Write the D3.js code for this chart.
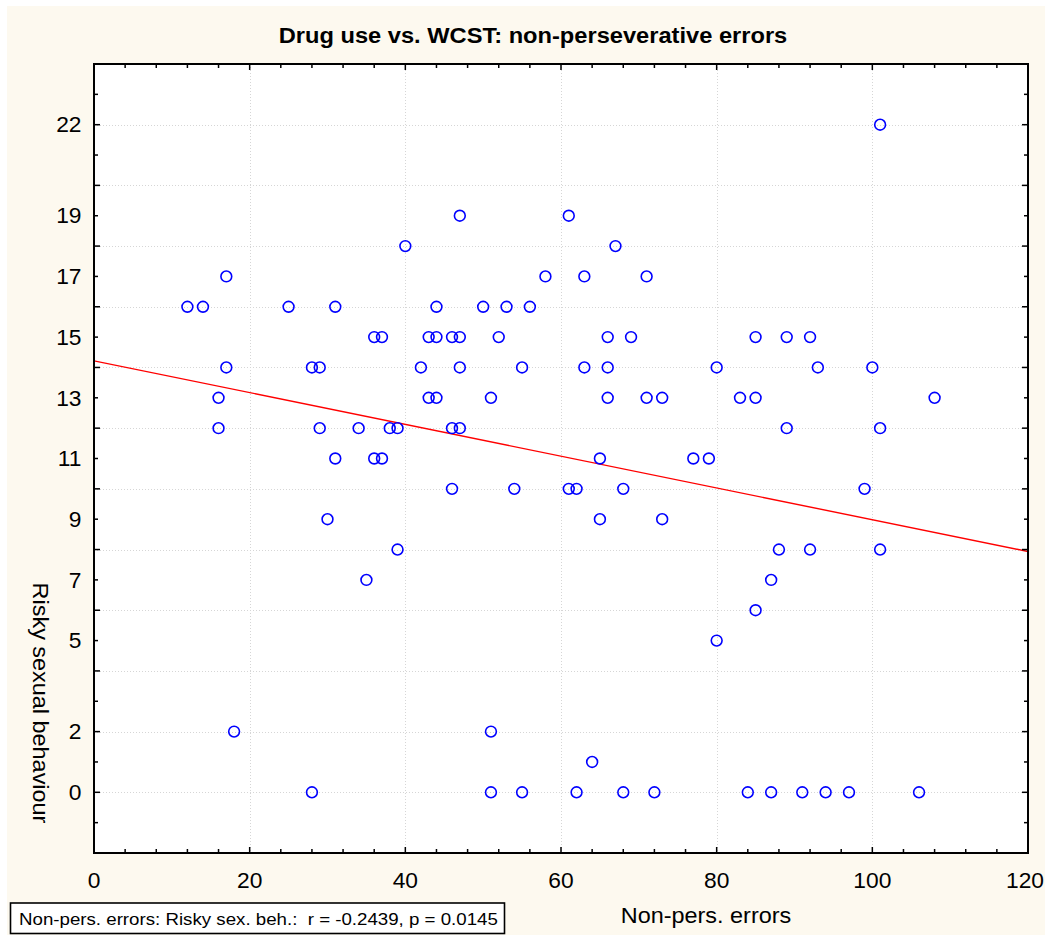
<!DOCTYPE html>
<html>
<head>
<meta charset="utf-8">
<script src="https://cdn.jsdelivr.net/npm/d3@7"></script>
<style>
  html, body { margin: 0; padding: 0; background: #ffffff; }
  svg { display: block; }
  text { font-family: "Liberation Sans", Arial, sans-serif; fill: #000; white-space: pre; }
</style>
</head>
<body>
<svg id="chart" width="1045" height="935"></svg>
<script>
// Non-perseverative errors (WCST) for each participant
const nonPersErrors = [
  12, 14, 17, 17, 16, 16, 18, 25, 28, 29, 31, 36, 37, 31, 36, 37,
  29, 34, 38, 39, 30, 35, 39, 28,
  40, 47, 44, 50, 53, 56, 58, 63, 71, 43, 44, 46, 47, 52, 66, 69,
  42, 47, 55, 63, 66, 43, 44, 51, 66, 71, 73, 46, 47, 65, 61, 67,
  46, 54, 61, 62, 68, 65, 73, 51, 64, 51, 55, 62, 68, 72,
  85, 89, 92, 80, 93, 100, 83, 85, 108, 89, 101, 77, 79, 101, 99,
  88, 92, 101, 87, 85, 80, 84, 87, 91, 94, 97, 106
];
// Risky sexual behaviour score for the same participants
const riskyScores = [
  16, 16, 17, 14, 13, 12, 2, 16, 14, 14, 16, 15, 15, 11, 11, 11,
  12, 12, 12, 12, 9, 7, 8, 0,
  18, 19, 16, 16, 16, 16, 17, 17, 17, 15, 15, 15, 15, 15, 15, 15,
  14, 14, 14, 14, 14, 13, 13, 13, 13, 13, 13, 12, 12, 11, 19, 18,
  10, 10, 10, 10, 10, 9, 9, 2, 1, 0, 0, 0, 0, 0,
  15, 15, 15, 14, 14, 14, 13, 13, 13, 12, 12, 11, 11, 22, 10,
  8, 8, 8, 7, 6, 5, 0, 0, 0, 0, 0, 0
];

const xTickLabels = [0, 20, 40, 60, 80, 100, 120];
const yTickLabels = [0, 2, 5, 7, 9, 11, 13, 15, 17, 19, 22];
const xDomain = [0, 120];
const yDomain = [-2, 24];

const titleText = "Drug use vs. WCST: non-perseverative errors";
const xAxisTitle = "Non-pers. errors";
const yAxisTitle = "Risky sexual behaviour";
const statsText = "Non-pers. errors: Risky sex. beh.:  r = -0.2439, p = 0.0145";

const svg = d3.select("#chart");
const W = 1045, H = 935;
const plot = { left: 94, right: 1028, top: 64, bottom: 853 };

// text placed at (px, py), rotated by rot degrees and widened by sx along its baseline
function label(parent, px, py, str, opts) {
  const o = Object.assign({ size: 21.5, sx: 1.08, rot: 0, anchor: "start", weight: "normal" }, opts);
  return parent.append("text")
    .attr("transform", `translate(${px},${py}) rotate(${o.rot}) scale(${o.sx},1)`)
    .attr("text-anchor", o.anchor)
    .attr("font-size", o.size)
    .attr("font-weight", o.weight)
    .text(str);
}

// page background
svg.append("rect").attr("x", 7).attr("y", 6).attr("width", W - 7).attr("height", H - 6)
  .attr("fill", "#fdf9ef");

// plot area
svg.append("rect")
  .attr("x", plot.left).attr("y", plot.top)
  .attr("width", plot.right - plot.left).attr("height", plot.bottom - plot.top)
  .attr("fill", "#ffffff");

const x = d3.scaleLinear().domain(xDomain).range([plot.left, plot.right]);
const y = d3.scaleLinear().domain(yDomain).range([plot.bottom, plot.top]);

// dotted grid at the major tick positions
const gx = d3.range(xDomain[0], xDomain[1] + 1, 20);
const gy = d3.range(yDomain[0], yDomain[1] + 1, 2);
const grid = svg.append("g").attr("stroke", "#d6d6d6").attr("stroke-width", 1)
  .attr("stroke-dasharray", "1,2");
grid.selectAll("line.gx").data(gx.filter(v => v > xDomain[0] && v < xDomain[1])).join("line")
  .attr("x1", d => Math.round(x(d)) + 0.5).attr("x2", d => Math.round(x(d)) + 0.5)
  .attr("y1", plot.top).attr("y2", plot.bottom);
grid.selectAll("line.gy").data(gy.filter(v => v > yDomain[0] && v < yDomain[1])).join("line")
  .attr("y1", d => Math.round(y(d)) + 0.5).attr("y2", d => Math.round(y(d)) + 0.5)
  .attr("x1", plot.left).attr("x2", plot.right);

// regression line (least squares on the data)
const n = nonPersErrors.length;
const mx = d3.mean(nonPersErrors), my = d3.mean(riskyScores);
let sxy = 0, sxx = 0;
for (let i = 0; i < n; i++) {
  sxy += (nonPersErrors[i] - mx) * (riskyScores[i] - my);
  sxx += (nonPersErrors[i] - mx) ** 2;
}
const slope = sxy / sxx, intercept = my - slope * mx;
svg.append("clipPath").attr("id", "plotclip").append("rect")
  .attr("x", plot.left).attr("y", plot.top)
  .attr("width", plot.right - plot.left).attr("height", plot.bottom - plot.top);
svg.append("line")
  .attr("clip-path", "url(#plotclip)")
  .attr("x1", x(xDomain[0])).attr("y1", y(intercept + slope * xDomain[0]))
  .attr("x2", x(xDomain[1])).attr("y2", y(intercept + slope * xDomain[1]))
  .attr("stroke", "#ff0000").attr("stroke-width", 1.4);

// scatter points
svg.append("g").selectAll("circle")
  .data(d3.range(n)).join("circle")
  .attr("cx", i => x(nonPersErrors[i]))
  .attr("cy", i => y(riskyScores[i]))
  .attr("r", 5.4)
  .attr("fill", "none")
  .attr("stroke", "#0000ff")
  .attr("stroke-width", 1.6);

// frame
svg.append("rect")
  .attr("x", plot.left).attr("y", plot.top)
  .attr("width", plot.right - plot.left).attr("height", plot.bottom - plot.top)
  .attr("fill", "none").attr("stroke", "#000").attr("stroke-width", 2);

// inward ticks on all four sides
const xMinor = d3.range(xDomain[0] + 4, xDomain[1], 4);
const yMinor = d3.range(yDomain[0] + 1, yDomain[1], 1);
const ticks = svg.append("g").attr("stroke", "#000").attr("stroke-width", 1.5);
xMinor.forEach(v => {
  const len = v % 20 === 0 ? 6 : 4;
  const px = x(v);
  ticks.append("line").attr("x1", px).attr("x2", px).attr("y1", plot.bottom).attr("y2", plot.bottom - len);
  ticks.append("line").attr("x1", px).attr("x2", px).attr("y1", plot.top).attr("y2", plot.top + len);
});
yMinor.forEach(v => {
  const len = v % 2 === 0 ? 6 : 4;
  const py = y(v);
  ticks.append("line").attr("y1", py).attr("y2", py).attr("x1", plot.left).attr("x2", plot.left + len);
  ticks.append("line").attr("y1", py).attr("y2", py).attr("x1", plot.right).attr("x2", plot.right - len);
});

// tick labels (the last x label is kept inside the page edge)
const xl = svg.append("g");
xTickLabels.forEach((d, i) => {
  const last = i === xTickLabels.length - 1;
  label(xl, last ? W - 1 : x(d), 888, d, { anchor: last ? "end" : "middle", sx: 1.06 });
});
const yl = svg.append("g");
yTickLabels.forEach(d => label(yl, 81.5, y(d) + 7.7, d, { anchor: "end", sx: 1.06 }));

// titles
label(svg, 533, 43, titleText, { anchor: "middle", weight: "bold", sx: 1.1 });
label(svg, 706, 923, xAxisTitle, { anchor: "middle", sx: 1.09 });
label(svg, 33, 703, yAxisTitle, { anchor: "middle", rot: 90, sx: 1.09 });

// correlation box
svg.append("rect").attr("x", 10.5).attr("y", 903).attr("width", 494).attr("height", 30.5)
  .attr("fill", "#ffffff").attr("stroke", "#000").attr("stroke-width", 1.6);
label(svg, 19, 924.5, statsText, { size: 16.4, sx: 1.14 });
</script>
</body>
</html>
